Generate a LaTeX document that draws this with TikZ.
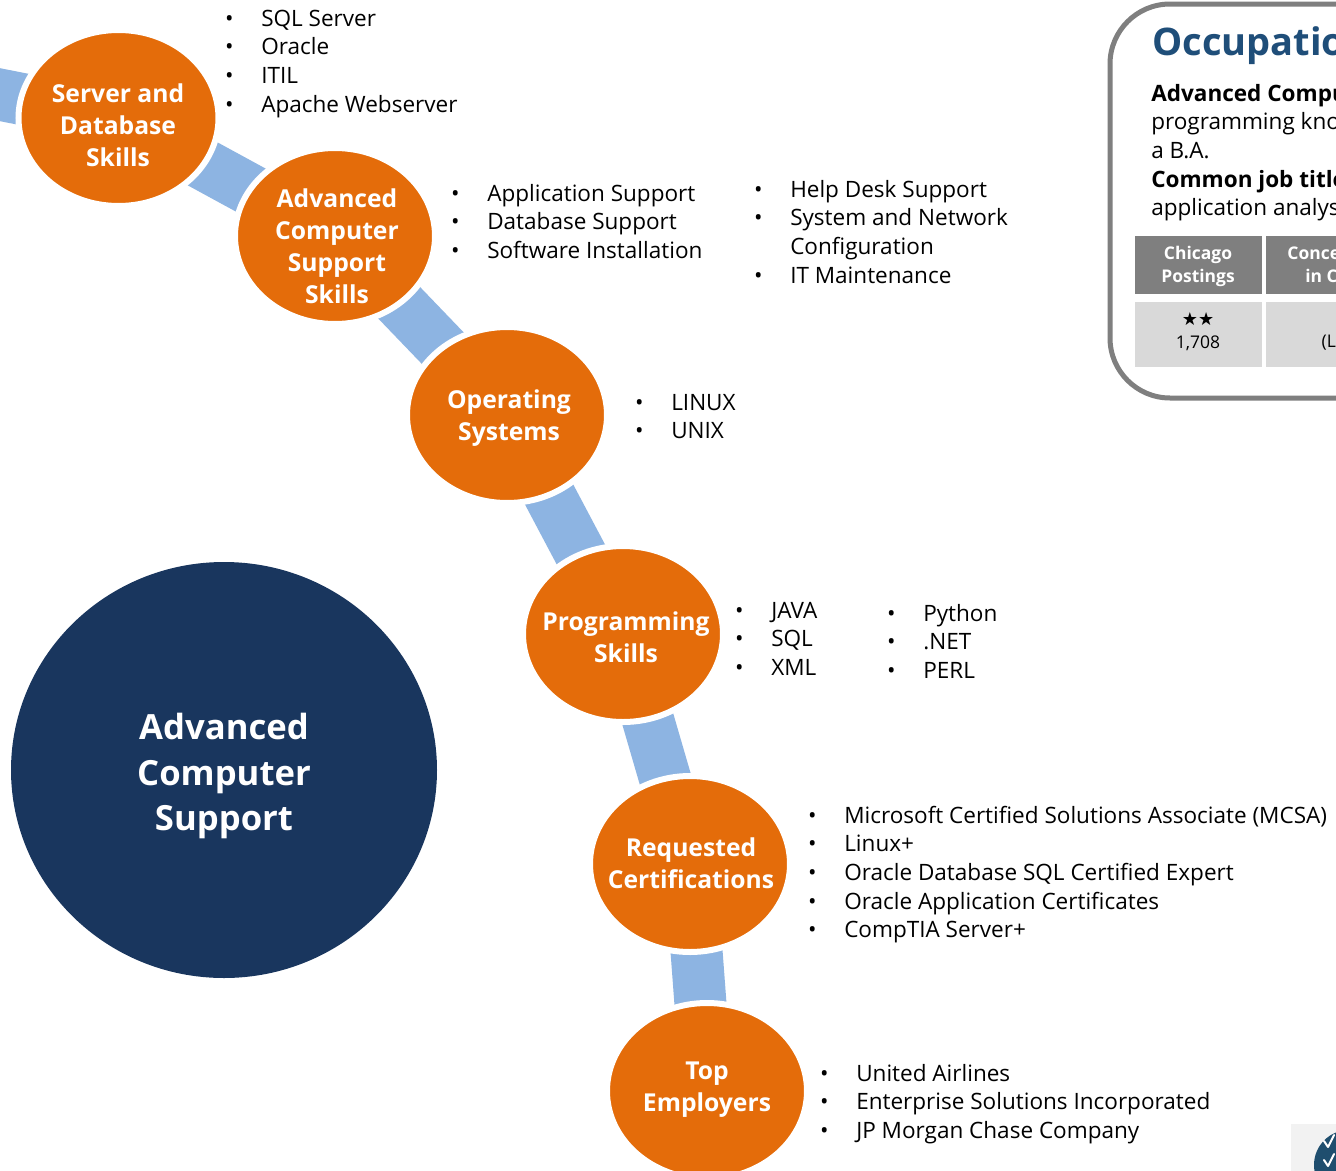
\documentclass[tikz,border=0pt]{standalone}
\usepackage{fontspec}
\setmainfont{Open Sans}
\newfontfamily\symfont{DejaVu Sans}
\definecolor{orng}{HTML}{E46C0A}
\definecolor{band}{HTML}{8DB4E2}
\definecolor{navy}{HTML}{19365E}
\definecolor{ttlblue}{HTML}{1F4E79}
\definecolor{boxgray}{HTML}{7F7F7F}
\definecolor{cellgray}{HTML}{D9D9D9}
\definecolor{logobg}{HTML}{F2F2F2}
\definecolor{logoblue}{HTML}{1F4E6E}
\newcommand\bl[1]{\makebox[24pt][l]{\makebox[0pt]{\textbullet}}#1}
\newcommand\blc[1]{\makebox[24pt][l]{}#1}
\newcommand\blist[1]{\begin{tabular}[t]{@{}l@{}}#1\end{tabular}}
\tikzset{
  skillcirc/.style={fill=orng, draw=white, line width=4.5pt},
  skilltext/.style={text=white, align=center, inner sep=0pt, font=\fontsize{18.5}{24}\selectfont\bfseries},
  bandline/.style={draw=band, line width=39pt, line join=round},
  listnode/.style={anchor=base west, inner sep=0pt, font=\fontsize{16.9}{21.5}\selectfont},
  hdrcell/.style={fill=boxgray},
  bodycell/.style={fill=cellgray},
  hdrtext/.style={text=white, align=center, inner sep=0pt, font=\fontsize{13.1}{17.2}\selectfont\bfseries},
  bodytext/.style={align=center, inner sep=0pt, font=\fontsize{13.1}{17.2}\selectfont}
}
\begin{document}
\begin{tikzpicture}[x=0.75pt,y=-0.75pt]
\useasboundingbox (0,0) rectangle (1336,1171);
\clip (0,0) rectangle (1336,1171);
\fill[white] (0,0) rectangle (1336,1171);
% centres
\coordinate (pre) at (-100,75);
\coordinate (c1) at (118.5,118);
\coordinate (c2) at (335,236);
\coordinate (c3) at (507,415);
\coordinate (c4) at (623,634);
\coordinate (c5) at (690,864);
\coordinate (c6) at (707,1091);
% bands
\draw[bandline] (pre) -- (c1) -- (c2) -- (c3) -- (c4) -- (c5) -- (c6);
% circles
\foreach \c in {c1,c2,c3,c4,c5,c6}{\path[skillcirc] (\c) ellipse (100 and 88);}
\node[skilltext] (t1) at (118,125) {Server and\\Database\\Skills};
\node[skilltext] (t2) at (337,246) {Advanced\\Computer\\Support\\Skills};
\node[skilltext] (t3) at (509,418) {Operating\\Systems};
\node[skilltext] (t4) at (626,637) {Programming\\Skills};
\node[skilltext] (t5) at (691,863) {Requested\\Certifications};
\node[skilltext] (t6) at (707,1090) {Top\\Employers};
% big circle
\path[fill=navy] (224,770) ellipse (213 and 208);
\node[text=white, align=center, inner sep=0pt, font=\fontsize{26}{34}\selectfont\bfseries] (big) at (224,776) {Advanced\\Computer\\Support};
% lists
\node[listnode] (l1) at (229,26) {\blist{\bl{SQL Server}\\ \bl{Oracle}\\ \bl{ITIL}\\ \bl{Apache Webserver}}};
\node[listnode] (l2) at (455,201) {\blist{\bl{Application Support}\\ \bl{Database Support}\\ \bl{Software Installation}}};
\node[listnode] (l3) at (758,197) {\blist{\bl{Help Desk Support}\\ \bl{System and Network}\\ \blc{Configuration}\\ \bl{IT Maintenance}}};
\node[listnode] (l4) at (639,410) {\blist{\bl{LINUX}\\ \bl{UNIX}}};
\node[listnode] (l5) at (739,618) {\blist{\bl{JAVA}\\ \bl{SQL}\\ \bl{XML}}};
\node[listnode] (l6) at (891,621) {\blist{\bl{Python}\\ \bl{.NET}\\ \bl{PERL}}};
\node[listnode] (l7) at (812,823) {\blist{\bl{Microsoft Certified Solutions Associate (MCSA)}\\ \bl{Linux+}\\ \bl{Oracle Database SQL Certified Expert}\\ \bl{Oracle Application Certificates}\\ \bl{CompTIA Server+}}};
\node[listnode] (l8) at (824,1081) {\blist{\bl{United Airlines}\\ \bl{Enterprise Solutions Incorporated}\\ \bl{JP Morgan Chase Company}}};
% occupation box
\draw[boxgray, line width=3.75pt, rounded corners=45pt] (1110,4) rectangle (1440,398);
\node[anchor=base west, inner sep=0pt, text=ttlblue, font=\fontsize{28.5}{34}\selectfont\bfseries] (ttl) at (1152,55) {Occupation};
\node[listnode] (desc) at (1151,101) {\blist{\textbf{Advanced Computer Support}\\ programming knowledge\\ a B.A.\\ \textbf{Common job titles:}\\ application analyst}};
\path[hdrcell] (1135,236) rectangle (1262,294);
\path[hdrcell] (1266,236) rectangle (1440,294);
\path[bodycell] (1135,302) rectangle (1262,367);
\path[bodycell] (1266,302) rectangle (1440,367);
\node[hdrtext] (h1) at (1198,266) {Chicago\\Postings};
\node[hdrtext] (h2) at (1350,266) {Concentration\\in Chicago};
\node[bodytext, font=\fontsize{13.5}{14}\selectfont\symfont] (s1) at (1198,319) {★★};
\node[bodytext] (b1) at (1198,343) {1,708};
\node[bodytext] (b2) at (1346,343) {(LOW)};
% logo corner
\path[fill=logobg] (1291,1124) rectangle (1340,1175);
\path[fill=logoblue] (1349,1165) circle (35);
\draw[white, line width=1.5pt, line cap=round, line join=round] (1324,1141) -- (1328,1147) -- (1334,1135);
\draw[white, line width=1.5pt, line cap=round, line join=round] (1324,1160) -- (1328,1166) -- (1334,1154);
\end{tikzpicture}
\end{document}
